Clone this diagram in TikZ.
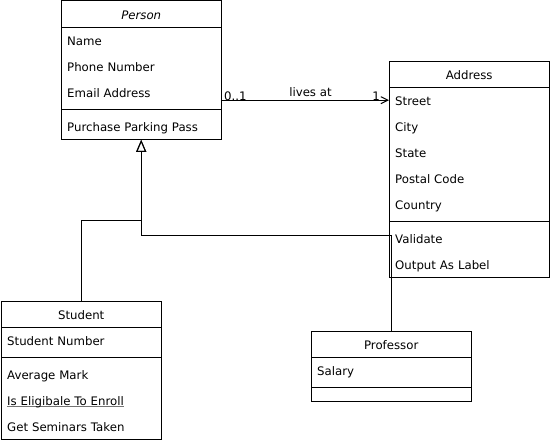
\documentclass[tikz,border=0pt]{standalone}
\usepackage{fontspec}
\setmainfont{DejaVu Sans}
\usetikzlibrary{fit,arrows.meta,calc}
\newcommand\umlfont{\fontsize{11.75pt}{14pt}\selectfont}
\newcommand\grayul[1]{\setbox0\hbox{#1}\rlap{\raisebox{-1.6pt}{\color{black!55}\rule{\wd0}{0.9pt}}}\box0}
\tikzset{
  hdr/.style={anchor=north west, minimum height=26pt, minimum width=160pt, inner sep=0pt, text height=13pt, text depth=2pt, font=\umlfont},
  row/.style={anchor=north west, minimum height=26pt, text width=148pt, inner xsep=6pt, inner ysep=0pt, text height=13pt, text depth=2pt, align=left, font=\umlfont},
  blank/.style={anchor=north west, minimum height=#1, minimum width=160pt, inner sep=0pt},
  classbox/.style={draw, line width=1pt, inner sep=0pt},
  rule/.style={line width=1pt},
  assoc/.style={line width=1pt, -{Straight Barb[length=7pt,width=7pt,line width=1pt]}},
  genline/.style={line width=1pt, -{Triangle[open,length=12pt,width=10pt,line width=1pt]}},
  lbl/.style={inner sep=0pt, font=\umlfont}
}
\begin{document}
\begin{tikzpicture}[x=1pt,y=-1pt]
\useasboundingbox (0,0) rectangle (553,444);
% Person
\node[hdr] (ph) at (61,1) {\itshape Person};
\node[row] (pa1) at (61,27) {Name};
\node[row] (pa2) at (61,53) {Phone Number};
\node[row] (pa3) at (61,79) {Email Address};
\node[row] (pm1) at (61,113) {Purchase Parking Pass};
\node[classbox, fit=(ph)(pm1)] (p) {};
\draw[rule] (ph.south west) -- (ph.south east);
\draw[rule] ([yshift=-4pt]pa3.south west) -- ([yshift=-4pt]pa3.south east);
% Address
\node[hdr] (ah) at (389,61) {Address};
\node[row] (st) at (389,87) {Street};
\node[row] (aa2) at (389,113) {City};
\node[row] (aa3) at (389,139) {State};
\node[row] (aa4) at (389,165) {Postal Code};
\node[row] (aa5) at (389,191) {Country};
\node[row] (am1) at (389,225) {Validate};
\node[row] (am2) at (389,251) {Output As Label};
\node[classbox, fit=(ah)(am2)] (a) {};
\draw[rule] (ah.south west) -- (ah.south east);
\draw[rule] ([yshift=-4pt]aa5.south west) -- ([yshift=-4pt]aa5.south east);
% Student
\node[hdr] (sh) at (1,301) {Student};
\node[row] (sa1) at (1,327) {Student Number};
\node[row] (sm1) at (1,361) {Average Mark};
\node[row] (sm2) at (1,387) {\grayul{Is Eligibale To Enroll}};
\node[row] (sm3) at (1,413) {Get Seminars Taken};
\node[classbox, fit=(sh)(sm3)] (s) {};
\draw[rule] (sh.south west) -- (sh.south east);
\draw[rule] ([yshift=-4pt]sa1.south west) -- ([yshift=-4pt]sa1.south east);
% Professor
\node[hdr] (rh) at (311,331) {Professor};
\node[row] (ra1) at (311,357) {Salary};
\node[blank=14pt] (rm) at (311,387) {};
\node[classbox, fit=(rh)(rm)] (r) {};
\draw[rule] (rh.south west) -- (rh.south east);
\draw[rule] (rm.north west) -- (rm.north east);
% Association
\draw[assoc] (p.east |- st.west) -- (st.west);
\node[lbl, anchor=base west] at ([xshift=2pt]p.east |- st.west) {0..1};
\node[lbl, anchor=base] at ($(p.east |- st.west)!0.5!(st.west) + (5,-4)$) {lives at};
\node[lbl, anchor=base east] at ([xshift=-9pt]st.west) {1};
% Generalization
\draw[genline] (s.north) -- ++(0,-80) -| (p.south);
\draw[genline] (r.north) -- ++(0,-95) -| (p.south);
\end{tikzpicture}
\end{document}
